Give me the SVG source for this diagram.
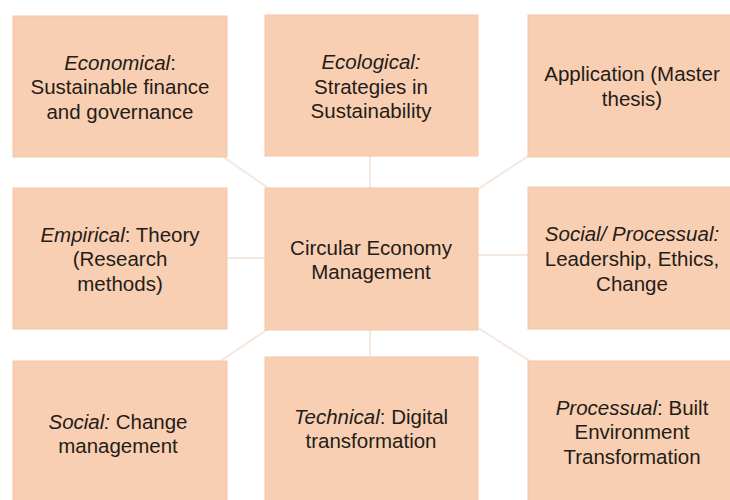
<svg xmlns="http://www.w3.org/2000/svg" width="730" height="500" viewBox="0 0 730 500">
<style>
.box{fill:#F8CFB3;stroke:#F3C6A8;stroke-width:1}
.t{font-family:"Liberation Sans",Arial,sans-serif;font-size:20.5px;fill:#251C17;text-anchor:middle}
.i{font-style:italic}
.c{stroke:#F4E8E0;stroke-width:2;fill:none}
</style>
<rect width="730" height="500" fill="#FFFFFF"/>
<g id="connectors">
<line class="c" x1="371.5" y1="259" x2="120" y2="86"/>
<line class="c" x1="370" y1="259" x2="370" y2="86"/>
<line class="c" x1="371.5" y1="259" x2="635" y2="86"/>
<line class="c" x1="371.5" y1="258" x2="120" y2="258"/>
<line class="c" x1="371.5" y1="255" x2="635" y2="255"/>
<line class="c" x1="371.5" y1="259" x2="120" y2="429"/>
<line class="c" x1="370" y1="259" x2="370" y2="429"/>
<line class="c" x1="371.5" y1="259" x2="635" y2="429"/>
</g>
<g id="economical">
<rect class="box" x="13" y="16" width="214" height="141"/>
<text class="t" x="120" y="70"><tspan class="i">Economical</tspan>:</text>
<text class="t" x="120" y="94">Sustainable finance</text>
<text class="t" x="120" y="119">and governance</text>
</g>
<g id="ecological">
<rect class="box" x="265" y="15" width="213" height="141"/>
<text class="t i" x="371" y="69">Ecological:</text>
<text class="t" x="371" y="94">Strategies in</text>
<text class="t" x="371" y="118">Sustainability</text>
</g>
<g id="application">
<rect class="box" x="528" y="15" width="214" height="142"/>
<text class="t" x="632" y="81">Application (Master</text>
<text class="t" x="632" y="106">thesis)</text>
</g>
<g id="empirical">
<rect class="box" x="13" y="188" width="214" height="141"/>
<text class="t" x="120" y="242"><tspan class="i">Empirical</tspan>: Theory</text>
<text class="t" x="120" y="266">(Research</text>
<text class="t" x="120" y="291">methods)</text>
</g>
<g id="center">
<rect class="box" x="265" y="188" width="213" height="142"/>
<text class="t" x="371" y="255">Circular Economy</text>
<text class="t" x="371" y="279">Management</text>
</g>
<g id="social-processual">
<rect class="box" x="528" y="187" width="214" height="142"/>
<text class="t i" x="632" y="241">Social/ Processual:</text>
<text class="t" x="632" y="266">Leadership, Ethics,</text>
<text class="t" x="632" y="291">Change</text>
</g>
<g id="social">
<rect class="box" x="13" y="361" width="214" height="145"/>
<text class="t" x="118" y="429"><tspan class="i">Social:</tspan> Change</text>
<text class="t" x="118" y="453">management</text>
</g>
<g id="technical">
<rect class="box" x="265" y="357" width="213" height="149"/>
<text class="t" x="371" y="424"><tspan class="i">Technical</tspan>: Digital</text>
<text class="t" x="371" y="448">transformation</text>
</g>
<g id="processual">
<rect class="box" x="528" y="361" width="214" height="145"/>
<text class="t" x="632" y="415"><tspan class="i">Processual</tspan>: Built</text>
<text class="t" x="632" y="439">Environment</text>
<text class="t" x="632" y="464">Transformation</text>
</g>
</svg>
